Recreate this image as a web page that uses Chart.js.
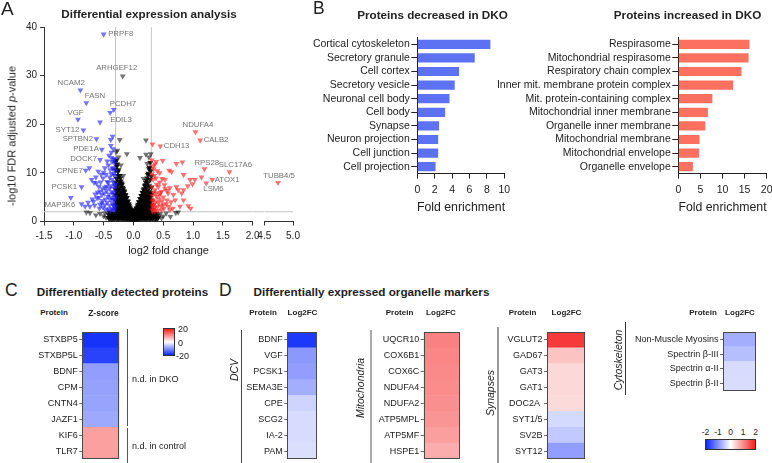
<!DOCTYPE html>
<html>
<head>
<meta charset="utf-8">
<script src="https://cdn.jsdelivr.net/npm/chart.js@4.4.1/dist/chart.umd.min.js"></script>
<style>
  html, body { margin: 0; padding: 0; background: #fff; }
  #page { position: relative; width: 772px; height: 463px; overflow: hidden;
          font-family: 'Liberation Sans', Arial, Helvetica, sans-serif; color: #222; }
  #page canvas { position: absolute; }
  .t { position: absolute; white-space: nowrap; line-height: 1; }
</style>
</head>
<body>
<div id="page"></div>
<script>
// ---------------- data ----------------

// A: volcano plot, [name, log2FC, -log10 adj. p] for labelled proteins, [log2FC, -log10 p] for the rest
const volcanoTicksX = [-1.5, -1.0, -0.5, 0.0, 0.5, 1.0, 1.5, 2.0];
const volcanoTicksXBreak = [4.5, 5.0];
const volcanoTicksY = [0, 10, 20, 30, 40];
const fcCutoff = [-0.3, 0.3];
const pCutoff = 2;

const downNamed = [
  ['PRPF8', -0.50, 38.5], ['NCAM2', -0.89, 27.0], ['FASN', -0.79, 24.4], ['PCDH7', -0.33, 23.0],
  ['EDIL3', -0.39, 22.4], ['VGF', -0.93, 21.0], ['SYT12', -0.84, 18.8], ['SPTBN2', -0.62, 17.0],
  ['PDE1A', -0.53, 14.8], ['DOCK7', -0.56, 12.7], ['CPNE7', -0.80, 10.5], ['PCSK1', -0.87, 7.1],
  ['MAP3K6', -1.05, 4.9]
];
const downPts = [
  [-0.56, 20.4], [-0.35, 17.5], [-0.38, 16.8], [-0.38, 15.6], [-0.37, 14.2], [-0.37, 13.1], [-0.33, 12.7],
  [-0.74, 11.0], [-0.59, 10.3], [-0.48, 11.0], [-0.39, 10.6], [-0.70, 8.6], [-0.62, 7.9], [-0.51, 8.9],
  [-0.45, 7.2], [-0.56, 6.2], [-0.87, 3.6], [-0.81, 3.1], [-0.73, 3.1], [-0.67, 4.1], [-0.61, 4.8],
  [-0.53, 3.8], [-0.57, 2.7],
  [-0.32, 2.3], [-0.33, 3.2], [-0.32, 4.4], [-0.34, 5.6], [-0.32, 6.8], [-0.33, 8.0], [-0.32, 9.4],
  [-0.34, 11.0], [-0.32, 12.0], [-0.36, 2.6], [-0.35, 3.8], [-0.37, 4.9], [-0.36, 6.1], [-0.38, 7.3],
  [-0.36, 8.6], [-0.37, 9.8], [-0.35, 10.9], [-0.39, 2.2], [-0.40, 3.3], [-0.39, 4.5], [-0.41, 5.6],
  [-0.40, 6.8], [-0.42, 8.0], [-0.40, 9.1], [-0.42, 11.6], [-0.43, 2.6], [-0.44, 3.9], [-0.43, 5.1],
  [-0.45, 6.3], [-0.44, 8.2], [-0.46, 9.6], [-0.47, 2.4], [-0.48, 3.4], [-0.47, 4.6], [-0.49, 5.8],
  [-0.48, 7.0], [-0.50, 10.1], [-0.51, 2.9], [-0.52, 4.3], [-0.53, 5.5], [-0.52, 6.7], [-0.55, 8.1],
  [-0.56, 3.5], [-0.58, 4.9], [-0.60, 6.0], [-0.58, 7.2], [-0.64, 5.6], [-0.65, 3.3], [-0.69, 4.6],
  [-0.76, 3.9], [-0.63, 9.1], [-0.66, 8.0], [-0.54, 9.7], [-0.44, 12.4], [-0.41, 13.6], [-0.34, 14.9],
  [-0.36, 12.3], [-0.31, 3.0], [-0.31, 5.0], [-0.31, 7.6], [-0.31, 10.4], [-0.34, 2.5], [-0.34, 3.4],
  [-0.34, 4.6], [-0.33, 6.0], [-0.32, 7.3], [-0.33, 9.8], [-0.32, 12.9]
];
const upNamed = [
  ['CDH13', 0.45, 15.5], ['NDUFA4', 1.04, 18.4], ['CALB2', 1.12, 16.7], ['RPS28', 1.19, 10.8],
  ['SLC17A6', 1.61, 10.2], ['ATOX1', 1.32, 8.6], ['LSM6', 1.22, 7.9]
];
const upPts = [
  [0.32, 15.9], [0.49, 12.5], [0.72, 11.9], [0.82, 12.2], [1.14, 9.1], [0.60, 10.5], [0.64, 10.2],
  [0.40, 10.4], [0.34, 10.8], [0.48, 8.8], [0.84, 9.6], [0.95, 8.6], [1.03, 8.6], [0.91, 7.3],
  [0.99, 7.7], [0.72, 7.1], [0.61, 6.9], [0.53, 6.7], [0.81, 5.8], [0.44, 5.5], [0.67, 5.5],
  [0.56, 4.4], [0.92, 3.2], [0.96, 2.7], [0.66, 2.7], [0.78, 3.1], [0.50, 3.4], [0.39, 5.1],
  [0.42, 7.2], [0.33, 8.6], [0.36, 6.5], [0.47, 6.2], [0.33, 4.4], [0.42, 3.8], [0.58, 5.8],
  [0.70, 4.4], [0.84, 4.4], [0.75, 6.5], [0.53, 8.6], [0.84, 6.5], [0.61, 2.4], [0.47, 2.4],
  [0.32, 2.3], [0.33, 3.3], [0.32, 5.3], [0.34, 6.0], [0.31, 7.1], [0.35, 9.4], [0.36, 2.9],
  [0.37, 4.0], [0.38, 5.8], [0.39, 7.6], [0.41, 2.2], [0.40, 3.0], [0.43, 4.6], [0.45, 5.9],
  [0.44, 8.1], [0.46, 3.2], [0.48, 4.2], [0.50, 5.0], [0.52, 7.5], [0.51, 2.7], [0.55, 3.6],
  [0.57, 6.4], [0.59, 3.1], [0.63, 4.0], [0.36, 11.8], [0.31, 12.6], [0.33, 11.4], [0.38, 8.9],
  [0.31, 9.8], [0.38, 12.3], [0.44, 10.0], [0.32, 2.2], [0.32, 3.1], [0.32, 4.2], [0.34, 2.6],
  [0.34, 3.5], [0.36, 2.1]
];
const upFarNamed = [['TUBB4/5', 4.74, 8.0]];

// not significant: isolated ones (drawn lighter) and the dense cloud
const nsNamed = [['ARHGEF12', -0.18, 29.9]];
const nsSparse = [
  [-0.23, 16.8], [0.21, 16.7], [-0.11, 13.9], [0.11, 13.1], [0.21, 13.8], [-0.27, 14.6], [0.26, 13.2],
  [-0.25, 13.2], [-0.21, 11.6], [-0.17, 9.4], [0.17, 8.8], [0.23, 11.9], [-0.29, 14.3], [0.29, 13.9],
  [-0.73, 1.8], [-0.63, 1.3], [-0.56, 1.6], [-0.79, 1.9], [-0.50, 1.1], [-0.46, 0.8], [-0.48, 1.7],
  [0.55, 1.7], [0.71, 1.8], [0.75, 1.9], [0.45, 1.6], [0.50, 1.1], [0.62, 1.0], [0.47, 0.7]
];
const nsDense = [
  [-0.42, 0.8], [-0.42, 1.5], [-0.40, 0.5], [-0.40, 1.2], [-0.40, 1.9], [-0.38, 0.9], [-0.38, 1.7],
  [-0.36, 0.4], [-0.36, 1.3], [-0.34, 0.8], [-0.34, 1.6], [-0.32, 0.5], [-0.32, 1.2],
  [-0.30, 0.9], [-0.30, 1.7], [-0.30, 2.6], [-0.30, 3.5], [-0.30, 4.4], [-0.30, 5.5], [-0.30, 6.6], [-0.30, 8.1], [-0.30, 10.6], [-0.30, 12.2],
  [-0.28, 0.4], [-0.28, 1.3], [-0.28, 2.2], [-0.28, 3.1], [-0.28, 4.0], [-0.28, 5.0], [-0.28, 6.1], [-0.28, 7.2], [-0.28, 8.8], [-0.28, 11.3],
  [-0.26, 0.8], [-0.26, 1.6], [-0.26, 2.5], [-0.26, 3.4], [-0.26, 4.3], [-0.26, 5.3], [-0.26, 6.4], [-0.26, 7.7], [-0.26, 9.4], [-0.26, 10.2],
  [-0.24, 0.5], [-0.24, 1.2], [-0.24, 2.0], [-0.24, 2.8], [-0.24, 3.7], [-0.24, 4.6], [-0.24, 5.6], [-0.24, 6.8], [-0.24, 8.3],
  [-0.22, 0.9], [-0.22, 1.7], [-0.22, 2.5], [-0.22, 3.3], [-0.22, 4.2], [-0.22, 5.1], [-0.22, 6.0], [-0.22, 7.4], [-0.22, 8.9],
  [-0.20, 0.4], [-0.20, 1.2], [-0.20, 2.0], [-0.20, 2.8], [-0.20, 3.6], [-0.20, 4.5], [-0.20, 5.4], [-0.20, 6.5], [-0.20, 7.9],
  [-0.18, 0.8], [-0.18, 1.5], [-0.18, 2.3], [-0.18, 3.1], [-0.18, 3.9], [-0.18, 4.8], [-0.18, 5.8], [-0.18, 7.0],
  [-0.16, 0.5], [-0.16, 1.2], [-0.16, 1.9], [-0.16, 2.7], [-0.16, 3.5], [-0.16, 4.3], [-0.16, 5.2], [-0.16, 6.3],
  [-0.14, 0.8], [-0.14, 1.5], [-0.14, 2.2], [-0.14, 3.0], [-0.14, 3.8], [-0.14, 4.6], [-0.14, 5.5],
  [-0.12, 0.4], [-0.12, 1.1], [-0.12, 1.8], [-0.12, 2.5], [-0.12, 3.3], [-0.12, 4.1], [-0.12, 4.8],
  [-0.10, 0.7], [-0.10, 1.4], [-0.10, 2.1], [-0.10, 2.8], [-0.10, 3.5], [-0.10, 4.2],
  [-0.08, 0.4], [-0.08, 1.0], [-0.08, 1.7], [-0.08, 2.3], [-0.08, 3.0], [-0.08, 3.6],
  [-0.06, 0.6], [-0.06, 1.2], [-0.06, 1.8], [-0.06, 2.4], [-0.06, 2.9],
  [-0.04, 0.3], [-0.04, 0.8], [-0.04, 1.3], [-0.04, 1.9],
  [-0.02, 0.2], [-0.02, 0.6], [-0.02, 1.0], [0.00, 0.1], [0.00, 0.4], [0.02, 0.2], [0.02, 0.6], [0.02, 1.0],
  [0.04, 0.3], [0.04, 0.8], [0.04, 1.3], [0.04, 1.8],
  [0.06, 0.5], [0.06, 1.1], [0.06, 1.7], [0.06, 2.3], [0.06, 2.8],
  [0.08, 0.4], [0.08, 1.0], [0.08, 1.6], [0.08, 2.2], [0.08, 2.9], [0.08, 3.5],
  [0.10, 0.7], [0.10, 1.3], [0.10, 2.0], [0.10, 2.7], [0.10, 3.4], [0.10, 4.0],
  [0.12, 0.4], [0.12, 1.1], [0.12, 1.8], [0.12, 2.5], [0.12, 3.2], [0.12, 3.9], [0.12, 4.6],
  [0.14, 0.8], [0.14, 1.5], [0.14, 2.2], [0.14, 2.9], [0.14, 3.7], [0.14, 4.5], [0.14, 5.3],
  [0.16, 0.5], [0.16, 1.2], [0.16, 1.9], [0.16, 2.6], [0.16, 3.4], [0.16, 4.2], [0.16, 5.0], [0.16, 6.0],
  [0.18, 0.8], [0.18, 1.5], [0.18, 2.3], [0.18, 3.0], [0.18, 3.8], [0.18, 4.7], [0.18, 5.6], [0.18, 6.7],
  [0.20, 0.4], [0.20, 1.1], [0.20, 1.9], [0.20, 2.7], [0.20, 3.5], [0.20, 4.3], [0.20, 5.2], [0.20, 6.2], [0.20, 7.5],
  [0.22, 0.8], [0.22, 1.6], [0.22, 2.4], [0.22, 3.2], [0.22, 4.1], [0.22, 5.0], [0.22, 5.9], [0.22, 7.1], [0.22, 8.4],
  [0.24, 0.5], [0.24, 1.2], [0.24, 2.0], [0.24, 2.8], [0.24, 3.6], [0.24, 4.5], [0.24, 5.4], [0.24, 6.5], [0.24, 7.9], [0.24, 9.6],
  [0.26, 0.9], [0.26, 1.7], [0.26, 2.5], [0.26, 3.3], [0.26, 4.2], [0.26, 5.1], [0.26, 6.1], [0.26, 7.3], [0.26, 10.8],
  [0.28, 0.4], [0.28, 1.2], [0.28, 2.1], [0.28, 3.0], [0.28, 3.9], [0.28, 4.9], [0.28, 6.0], [0.28, 8.6], [0.28, 12.1],
  [0.30, 0.8], [0.30, 1.6], [0.30, 2.5], [0.30, 3.4], [0.30, 4.4], [0.30, 5.6], [0.30, 7.0], [0.30, 9.3],
  [0.32, 0.5], [0.32, 1.3], [0.34, 0.9], [0.34, 1.7], [0.36, 0.4], [0.36, 1.2], [0.38, 0.8], [0.38, 1.6],
  [0.40, 0.5], [0.40, 1.3], [0.42, 0.9],
  [-0.01, 1.4], [0.01, 1.6], [-0.01, 2.1], [0.01, 2.4], [-0.03, 2.3], [0.03, 2.2], [-0.05, 2.6], [0.05, 2.7],
  [-0.03, 1.5], [0.03, 1.4], [-0.07, 3.3], [0.07, 3.2], [-0.09, 4.1], [0.09, 4.0], [-0.11, 4.9], [0.11, 4.7],
  [-0.13, 5.4], [0.13, 5.3], [-0.15, 6.1], [0.15, 5.9], [-0.17, 6.7], [0.17, 6.5], [-0.19, 7.6], [0.19, 7.3],
  [-0.21, 8.3], [0.21, 8.0], [-0.23, 9.4], [0.23, 8.9], [-0.25, 10.6], [0.25, 9.9], [-0.27, 11.8], [0.27, 11.1],
  [-0.29, 12.6], [0.29, 10.4]
];

// B: GO enrichment
const decreasedTerms = ['Cortical cytoskeleton', 'Secretory granule', 'Cell cortex', 'Secretory vesicle',
  'Neuronal cell body', 'Cell body', 'Synapse', 'Neuron projection', 'Cell junction', 'Cell projection'];
const decreasedFold = [8.4, 6.6, 4.8, 4.3, 3.7, 3.2, 2.5, 2.4, 2.4, 2.1];
const decreasedTicks = [0, 2, 4, 6, 8, 10];
const increasedTerms = ['Respirasome', 'Mitochondrial respirasome', 'Respiratory chain complex',
  'Inner mit. membrane protein complex', 'Mit. protein-containing complex', 'Mitochondrial inner membrane',
  'Organelle inner membrane', 'Mitochondrial membrane', 'Mitochondrial envelope', 'Organelle envelope'];
const increasedFold = [16.1, 15.9, 14.3, 12.4, 7.7, 6.7, 6.1, 4.8, 4.7, 3.3];
const increasedTicks = [0, 5, 10, 15, 20];

// C: differentially detected proteins (z-score)
const detectedProteins = ['STXBP5', 'STXBP5L', 'BDNF', 'CPM', 'CNTN4', 'JAZF1', 'KIF6', 'TLR7'];
const detectedZ = [-19, -17.5, -9, -8.7, -8.5, -8, 8.5, 8.5];

// D: organelle markers (log2FC)
const dcvProteins = ['BDNF', 'VGF', 'PCSK1', 'SEMA3E', 'CPE', 'SCG2', 'IA-2', 'PAM'];
const dcvLog2FC = [-1.85, -0.95, -0.9, -0.75, -0.4, -0.33, -0.33, -0.3];
const mitoProteins = ['UQCR10', 'COX6B1', 'COX6C', 'NDUFA4', 'NDUFA2', 'ATP5MPL', 'ATP5MF', 'HSPE1'];
const mitoLog2FC = [1.12, 1.08, 1.05, 1.02, 1.0, 0.94, 0.86, 0.74];
const synProteins = ['VGLUT2', 'GAD67', 'GAT3', 'GAT1', 'DOC2A ', 'SYT1/5', 'SV2B', 'SYT12'];
const synLog2FC = [1.75, 0.53, 0.35, 0.35, 0.33, -0.35, -0.5, -0.9];
const cytoProteins = ['Non-Muscle Myosins', 'Spectrin β-III', 'Spectrin α-II', 'Spectrin β-II'];
const cytoLog2FC = [-0.75, -0.6, -0.33, -0.32];

// label placement for the volcano plot: [dx, dy, align]
const labelPlace = {
  'PRPF8': [4.5, 0, 'left'], 'ARHGEF12': [-6, -8.5, 'center'], 'NCAM2': [4.5, -7, 'right'],
  'FASN': [-1.5, -7, 'left'], 'PCDH7': [-4, -6, 'left'], 'VGF': [5.5, -6.5, 'right'],
  'EDIL3': [0, 7, 'left'], 'SYT12': [-4, 0, 'right'], 'SPTBN2': [-3.5, 0, 'right'],
  'PDE1A': [-3, -0.5, 'right'], 'DOCK7': [-3, -1, 'right'], 'CPNE7': [-3, 0, 'right'],
  'PCSK1': [-4.5, 0, 'right'], 'MAP3K6': [4.5, 7.3, 'right'], 'CDH13': [3.5, 0, 'left'],
  'NDUFA4': [2.5, -7.3, 'center'], 'CALB2': [3.5, 0, 'left'], 'RPS28': [2.4, -6.6, 'center'],
  'SLC17A6': [6, -7.3, 'center'], 'ATOX1': [2.5, 0, 'left'], 'LSM6': [7.3, 6, 'center'],
  'TUBB4/5': [1, -6.7, 'center']
};

// ---------------- helpers ----------------
Chart.defaults.font.family = "'Liberation Sans', Arial, Helvetica, sans-serif";
Chart.defaults.color = '#222';
Chart.defaults.animation = false;
Chart.defaults.responsive = false;
Chart.defaults.plugins.legend.display = false;
Chart.defaults.plugins.tooltip.enabled = false;

const page = document.getElementById('page');
const FONT = "'Liberation Sans', Arial, Helvetica, sans-serif";

function addCanvas(left, top, w, h) {
  const c = document.createElement('canvas');
  c.width = w; c.height = h;
  c.style.left = left + 'px'; c.style.top = top + 'px';
  page.appendChild(c);
  return c;
}

function text(str, x, y, o) {
  o = o || {};
  const d = document.createElement('div');
  d.className = 't';
  d.innerHTML = str;
  d.style.left = x + 'px'; d.style.top = y + 'px';
  d.style.fontSize = (o.size || 10) + 'px';
  if (o.bold) d.style.fontWeight = 'bold';
  if (o.italic) d.style.fontStyle = 'italic';
  if (o.color) d.style.color = o.color;
  const ax = o.align === 'left' ? '0' : (o.align === 'right' ? '-100%' : '-50%');
  d.style.transform = o.rotate ? `translate(-50%,-50%) rotate(${o.rotate}deg)` : `translate(${ax},-50%)`;
  page.appendChild(d);
}

function box(x, y, w, h, css) {
  const d = document.createElement('div');
  d.style.cssText = `position:absolute;left:${x}px;top:${y}px;width:${w}px;height:${h}px;box-sizing:border-box;` + (css || '');
  page.appendChild(d);
}

const BLUE_END = [10, 40, 250], RED_END = [245, 30, 30];
function heatColor(t) {
  t = Math.max(-1, Math.min(1, t));
  const end = t < 0 ? BLUE_END : RED_END, a = Math.abs(t);
  const c = end.map(v => Math.round(255 + (v - 255) * a));
  return `rgb(${c[0]},${c[1]},${c[2]})`;
}

const toXY = p => ({ x: p[p.length - 2], y: p[p.length - 1] });
const fixTicks = list => scale => { scale.ticks = list.map(v => ({ value: v })); };

// ---------------- A: volcano ----------------
const volcanoLabels = {
  id: 'volcanoLabels',
  afterDatasetsDraw(chart) {
    const ctx = chart.ctx, ys = chart.scales.y;
    ctx.save();
    ctx.font = '7.8px ' + FONT;
    ctx.fillStyle = '#727272';
    ctx.textBaseline = 'middle';
    [[downNamed, 'x'], [upNamed, 'x'], [nsNamed, 'x'], [upFarNamed, 'x2']].forEach(([list, axis]) => {
      list.forEach(p => {
        const s = labelPlace[p[0]];
        if (!s) return;
        ctx.textAlign = s[2];
        ctx.fillText(p[0], chart.scales[axis].getPixelForValue(p[1]) + s[0], ys.getPixelForValue(p[2]) + s[1]);
      });
    });
    ctx.restore();
  }
};

const tri = { pointStyle: 'triangle', pointRotation: 180, pointRadius: 3.4, pointHoverRadius: 3.4, pointBorderWidth: 0 };
const cutLine = { showLine: true, pointRadius: 0, borderColor: '#c4c4c4', borderWidth: 1 };
const xAxisBase = (weight, min, max, ticks) => ({
  type: 'linear', position: 'bottom', stack: 'xs', stackWeight: weight, min: min, max: max,
  afterBuildTicks: fixTicks(ticks),
  ticks: { autoSkip: false, maxRotation: 0, padding: 5, font: { size: 10 }, callback: v => v.toFixed(1) },
  grid: { drawOnChartArea: false, tickLength: 4, color: '#333' },
  border: { color: '#333' },
  afterFit: s => { s.height = 22; }
});

new Chart(addCanvas(0, 0, 320, 262), {
  type: 'scatter',
  data: {
    datasets: [
      Object.assign({ data: upNamed.concat(upPts).map(toXY), backgroundColor: 'rgba(255,25,25,0.62)' }, tri),
      Object.assign({ data: downNamed.concat(downPts).map(toXY), backgroundColor: 'rgba(30,30,255,0.62)' }, tri),
      Object.assign({ data: upFarNamed.map(toXY), xAxisID: 'x2', backgroundColor: 'rgba(255,25,25,0.62)' }, tri),
      Object.assign({ data: nsDense.map(toXY), backgroundColor: 'rgba(0,0,0,0.88)' }, tri),
      Object.assign({ data: nsNamed.concat(nsSparse).map(toXY), backgroundColor: 'rgba(0,0,0,0.55)' }, tri),
      Object.assign({ data: [{ x: fcCutoff[0], y: 0 }, { x: fcCutoff[0], y: 40 }] }, cutLine),
      Object.assign({ data: [{ x: fcCutoff[1], y: 0 }, { x: fcCutoff[1], y: 40 }] }, cutLine),
      Object.assign({ data: [{ x: -1.5, y: pCutoff }, { x: 2.0, y: pCutoff }] }, cutLine),
      Object.assign({ data: [{ x: 0, y: pCutoff }, { x: 1, y: pCutoff }], xAxisID: 'xg' }, cutLine),
      Object.assign({ data: [{ x: 4.5, y: pCutoff }, { x: 5.0, y: pCutoff }], xAxisID: 'x2' }, cutLine)
    ]
  },
  options: {
    layout: { padding: { left: 0, top: 27, right: 27, bottom: 18.5 } },
    scales: {
      x: xAxisBase(208.7, -1.5, 2.0, volcanoTicksX),
      xg: {
        type: 'linear', position: 'bottom', stack: 'xs', stackWeight: 11.6, min: 0, max: 1,
        ticks: { display: false }, grid: { display: false }, border: { display: false },
        afterFit: s => { s.height = 22; }
      },
      x2: xAxisBase(28.7, 4.5, 5.0, volcanoTicksXBreak),
      y: {
        min: 0, max: 40,
        afterBuildTicks: fixTicks(volcanoTicksY),
        ticks: { padding: 3, font: { size: 10 } },
        grid: { drawOnChartArea: false, tickLength: 4, color: '#333' },
        border: { color: '#333' },
        afterFit: s => { s.width = 44; }
      }
    }
  },
  plugins: [volcanoLabels]
});

// ---------------- B: enrichment bars ----------------
function enrichment(canvasLeft, canvasW, areaLeft, areaRight, terms, folds, ticks, color) {
  const top = 20, h = 200, areaTop = 37.5, areaBottom = 173.5, xH = 20;
  new Chart(addCanvas(canvasLeft, top, canvasW, h), {
    type: 'bar',
    data: { labels: terms, datasets: [{ data: folds, backgroundColor: color, barPercentage: 0.68, categoryPercentage: 1 }] },
    options: {
      indexAxis: 'y',
      layout: { padding: { left: 0, top: areaTop - top, right: canvasLeft + canvasW - areaRight, bottom: top + h - areaBottom - xH } },
      scales: {
        x: {
          min: ticks[0], max: ticks[ticks.length - 1],
          afterBuildTicks: fixTicks(ticks),
          ticks: { autoSkip: false, maxRotation: 0, padding: 5, font: { size: 10.5 } },
          grid: { drawOnChartArea: false, tickLength: 5, color: '#222' },
          border: { color: '#222' },
          afterFit: s => { s.height = xH; }
        },
        y: {
          ticks: { autoSkip: false, padding: 1.5, font: { size: 10.5 } },
          grid: { drawOnChartArea: false, tickLength: 6, color: '#222', offset: false },
          border: { color: '#222' },
          afterFit: s => { s.width = areaLeft - canvasLeft; }
        }
      }
    }
  });
}
enrichment(300, 220, 417.3, 504.3, decreasedTerms, decreasedFold, decreasedTicks, '#5c72f2');
enrichment(470, 320, 678.3, 766.7, increasedTerms, increasedFold, increasedTicks, '#fc705f');

// ---------------- C / D: heatmaps ----------------
const frame = {
  id: 'frame',
  afterDatasetsDraw(chart) {
    const a = chart.chartArea, ctx = chart.ctx;
    ctx.save();
    ctx.strokeStyle = '#4a4a4a';
    ctx.lineWidth = 1;
    ctx.strokeRect(Math.round(a.left) + 0.5, Math.round(a.top) + 0.5, Math.round(a.right - a.left) - 1, Math.round(a.bottom - a.top) - 1);
    ctx.restore();
  }
};

function heatmap(areaLeft, areaTop, areaRight, rowH, proteins, values, vmax) {
  const labelW = 110, pad = 3;
  const w = labelW + (areaRight - areaLeft) + pad, h = proteins.length * rowH + 2 * pad;
  new Chart(addCanvas(Math.round(areaLeft - labelW), areaTop - pad, Math.round(w), Math.ceil(h)), {
    type: 'bar',
    data: {
      labels: proteins,
      datasets: [{
        data: values.map(() => [0, 1]),
        backgroundColor: values.map(v => heatColor(v / vmax)),
        borderWidth: 0, barPercentage: 1, categoryPercentage: 1
      }]
    },
    options: {
      indexAxis: 'y',
      layout: { padding: { left: 0, top: pad, right: Math.round(w) - labelW - (areaRight - areaLeft), bottom: Math.ceil(h) - pad - proteins.length * rowH } },
      scales: {
        x: { display: false, min: 0, max: 1 },
        y: {
          ticks: { autoSkip: false, padding: 1.5, font: { size: 9 }, color: '#222' },
          grid: { drawOnChartArea: false, tickLength: 3, color: '#666', offset: false },
          border: { display: false },
          afterFit: s => { s.width = labelW - (areaLeft - Math.round(areaLeft)); }
        }
      }
    },
    plugins: [frame]
  });
}

heatmap(81.7, 328.3, 119, 16.8, detectedProteins, detectedZ, 20);
heatmap(286.7, 328, 316.7, 16.8, dcvProteins, dcvLog2FC, 2);
heatmap(424.3, 328.3, 460, 16.8, mitoProteins, mitoLog2FC, 2);
heatmap(547, 328, 585, 16.8, synProteins, synLog2FC, 2);
heatmap(723, 328.3, 756, 16.7, cytoProteins, cytoLog2FC, 2);

// ---------------- text, brackets, colour bars ----------------
text('A', 1, 8, { size: 19, align: 'left' });
text('B', 313, 9, { size: 17.5, align: 'left' });
text('C', 5, 290.5, { size: 17.5, align: 'left' });
text('D', 219, 290.5, { size: 17.5, align: 'left' });

text('Differential expression analysis', 149, 14, { size: 11.7, bold: true });
text('Proteins decreased in DKO', 432.5, 15, { size: 11.7, bold: true });
text('Proteins increased in DKO', 687.5, 15, { size: 11.7, bold: true });
text('Differentially detected proteins', 122.5, 292, { size: 11.7, bold: true });
text('Differentially expressed organelle markers', 371.5, 292, { size: 11.7, bold: true });

text('log2 fold change', 168.5, 250, { size: 11 });
text('-log10 FDR adjusted <i>p</i>-value', 12, 136, { size: 11, rotate: -90 });
text('Fold enrichment', 461, 207, { size: 12.3 });
text('Fold enrichment', 722.5, 207, { size: 12.3 });

// column headers
[[54, 'Protein'], [103.5, 'Z-score'], [263, 'Protein'], [302.5, 'Log2FC'], [399.5, 'Protein'], [441, 'Log2FC'],
 [522.5, 'Protein'], [566.5, 'Log2FC'], [703, 'Protein'], [740, 'Log2FC']].forEach(h => {
  text(h[1], h[0], 313, { size: h[1] === 'Z-score' ? 8.5 : 8, bold: true });
});

// C brackets and colour bar
box(126.5, 329, 1, 97, 'background:#555');
box(126.5, 428, 1, 40, 'background:#555');
text('n.d. in DKO', 132, 379, { size: 9, align: 'left' });
text('n.d. in control', 132, 446, { size: 9, align: 'left' });
box(163, 328, 12, 28, `border:1px solid #333;background:linear-gradient(to bottom, ${heatColor(1)}, #fff, ${heatColor(-1)})`);
text('20', 178, 329, { size: 9, align: 'left' });
text('0', 178, 342.5, { size: 9, align: 'left' });
text('-20', 176, 356, { size: 9, align: 'left' });

// D group lines and labels
box(241, 330, 1, 140, 'background:#444');
box(370, 330, 2, 140, 'background:#aaa');
box(497, 327, 2, 140, 'background:#999');
box(624.5, 322, 1, 73, 'background:#333');
text('DCV', 233.5, 370, { size: 10.5, italic: true, rotate: -90 });
text('Mitochondria', 360, 388, { size: 10.5, italic: true, rotate: -90 });
text('Synapses', 490, 393, { size: 10.5, italic: true, rotate: -90 });
text('Cytoskeleton', 618.3, 360, { size: 10.5, italic: true, rotate: -90 });

// D colour bar
box(705, 439, 51, 11, `border:1px solid #333;background:linear-gradient(to right, ${heatColor(-1)}, #fff, ${heatColor(1)})`);
[[-2, 705.5], [-1, 718], [0, 730.5], [1, 743], [2, 755.5]].forEach(t => text(String(t[0]), t[1], 432, { size: 8.5 }));
</script>
</body>
</html>
